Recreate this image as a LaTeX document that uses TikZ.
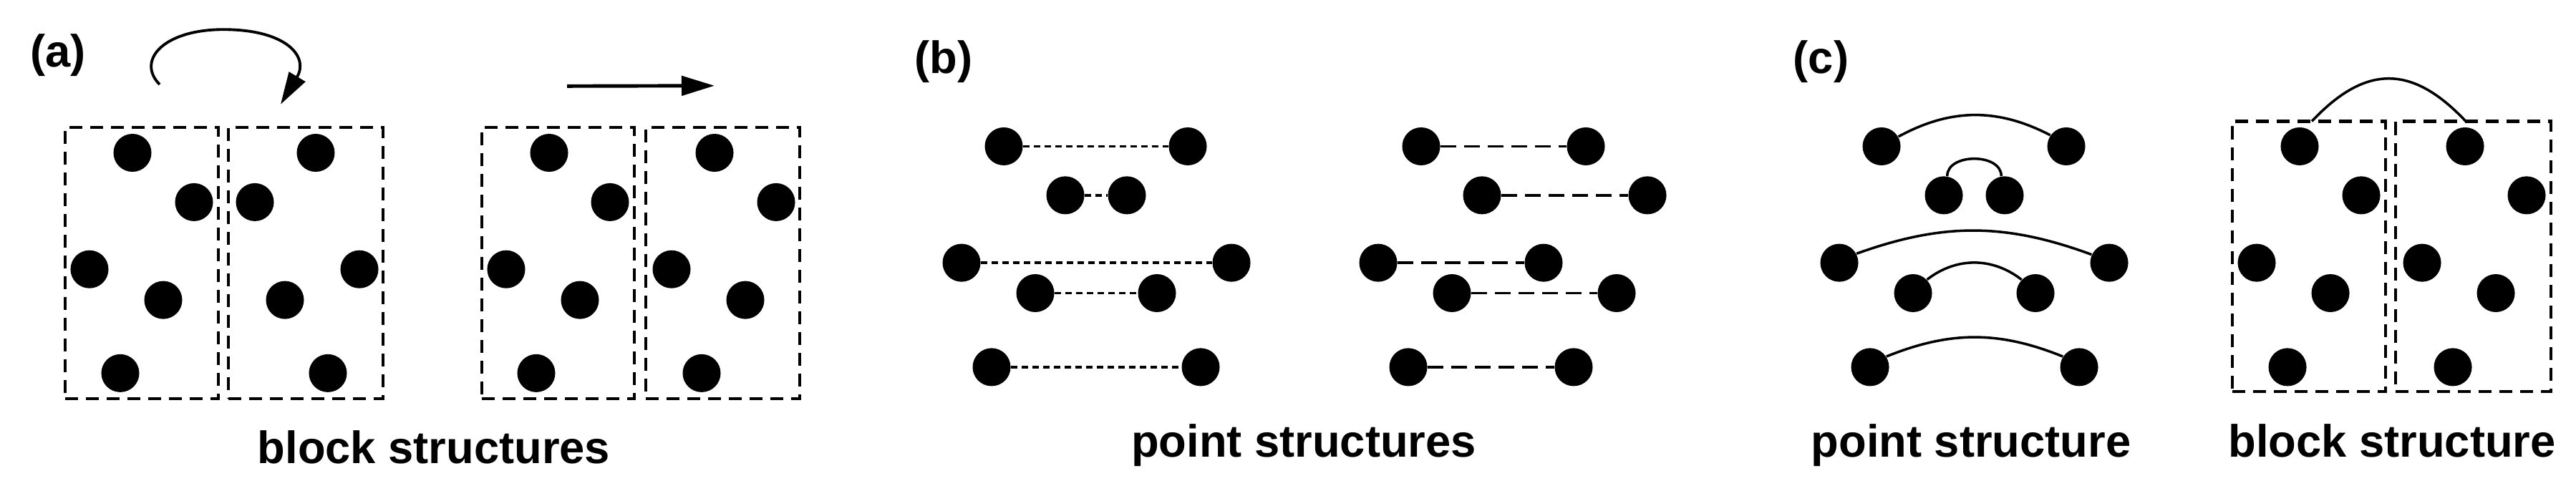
\documentclass[tikz,border=0pt]{standalone}
\usepackage{fontspec}
\setmainfont{Liberation Sans}
\usetikzlibrary{shapes.geometric,arrows.meta}
\tikzset{
  dot/.style={circle,fill=black,draw=none,inner sep=0pt,minimum size=0.53cm},
  blockbox/.style={draw,line width=1.15pt,dash pattern=on 0.18cm off 0.11cm,inner sep=0pt},
  dotline/.style={line width=1.1pt,dash pattern=on 0.09cm off 0.06cm},
  dashline/.style={line width=1.1pt,dash pattern=on 0.22cm off 0.11cm},
  arcline/.style={line width=1.0pt},
  lbl/.style={inner sep=0pt,font=\bfseries\fontsize{18}{22}\selectfont}
}
\begin{document}
\begin{tikzpicture}[x=0.01cm,y=-0.00565cm]
\useasboundingbox (0,0) rectangle (3598,1201.8);
% ---------- (a)
\node[lbl,anchor=base west] (la) at (42,165) {(a)};
\node[blockbox,minimum width=2.14cm,minimum height=3.79cm] (b1) at (198,650) {};
\node[blockbox,minimum width=2.16cm,minimum height=3.79cm] (b2) at (427,650) {};
\node[blockbox,minimum width=2.13cm,minimum height=3.79cm] (b3) at (779.5,650) {};
\node[blockbox,minimum width=2.15cm,minimum height=3.79cm] (b4) at (1009.5,650) {};
\foreach \x/\y [count=\i] in {185/378,271/500,125/666,228/742,168/923} \node[dot] (a1\i) at (\x,\y) {};
\foreach \x/\y [count=\i] in {441/378,356/500,502/666,398/742,458/923} \node[dot] (a2\i) at (\x,\y) {};
\foreach \x/\y [count=\i] in {767/378,852/500,707/666,810/742,749/923} \node[dot] (a3\i) at (\x,\y) {};
\foreach \x/\y [count=\i] in {998/378,1084/500,938/666,1041/742,980/923} \node[dot] (a4\i) at (\x,\y) {};
\coordinate (cs) at (223,209);
\coordinate (ct) at (312,73);
\coordinate (ce) at (392,258);
\draw[line width=1.1pt,-{Triangle[length=0.45cm,width=0.26cm]}] (cs) .. controls (190,150) and (228,73) .. (ct) .. controls (400,73) and (432,140) .. (ce);
\coordinate (ss) at (792,213);
\coordinate (se) at (998,212);
\draw[line width=1.4pt,-{Triangle[length=0.46cm,width=0.27cm]}] (ss) -- (se);
\node[lbl,anchor=base] (ta) at (606,1146) {block structures};
% ---------- (b)
\node[lbl,anchor=base west] (lb) at (1277,181) {(b)};
\foreach \n/\xa/\xb/\y in {1/1402/1659/362,2/1488/1574/483,3/1343/1720/650,4/1446/1616/725,5/1385/1677/908}{
  \node[dot] (p\n l) at (\xa,\y) {};
  \node[dot] (p\n r) at (\xb,\y) {};
  \draw[dotline] (p\n l) -- (p\n r);
}
\foreach \n/\xa/\xb/\y in {1/1985/2215/362,2/2070/2301/483,3/1925/2156/650,4/2028/2258/725,5/1967/2198/908}{
  \node[dot] (q\n l) at (\xa,\y) {};
  \node[dot] (q\n r) at (\xb,\y) {};
  \draw[dashline] (q\n l) -- (q\n r);
}
\node[lbl,anchor=base] (tb) at (1821,1131) {point structures};
% ---------- (c)
\node[lbl,anchor=base west] (lc) at (2504,181) {(c)};
\foreach \n/\xa/\xb/\y in {1/2628/2886/362,2/2715/2800/483,3/2569/2946/650,4/2672/2843/725,5/2612/2904/908}{
  \node[dot] (r\n l) at (\xa,\y) {};
  \node[dot] (r\n r) at (\xb,\y) {};
}
\draw[arcline] (r1l.30) to[bend left=28] (r1r.145);
\draw[arcline] (r2l.80) to[out=90,in=90,looseness=1.1] (r2r.100);
\draw[arcline] (r3l.28) to[bend left=20] (r3r.155);
\draw[arcline] (r4l.44) to[bend left=38] (r4r.136);
\draw[arcline] (r5l.33) to[bend left=22] (r5r.147);
\node[blockbox,minimum width=2.14cm,minimum height=3.77cm] (c1) at (3225,634) {};
\node[blockbox,minimum width=2.17cm,minimum height=3.77cm] (c2) at (3454.5,634) {};
\foreach \x/\y [count=\i] in {3212/362,3298/483,3152/650,3255/725,3195/908} \node[dot] (s1\i) at (\x,\y) {};
\foreach \x/\y [count=\i] in {3443/362,3529/483,3383/650,3486/725,3426/908} \node[dot] (s2\i) at (\x,\y) {};
\coordinate (ka) at (3229,300);
\coordinate (kb) at (3444,300);
\draw[arcline] (ka) .. controls (3304,159) and (3369,159) .. (kb);
\node[lbl,anchor=base] (tc1) at (2753,1131) {point structure};
\node[lbl,anchor=base] (tc2) at (3341,1131) {block structure};
\end{tikzpicture}
\end{document}
